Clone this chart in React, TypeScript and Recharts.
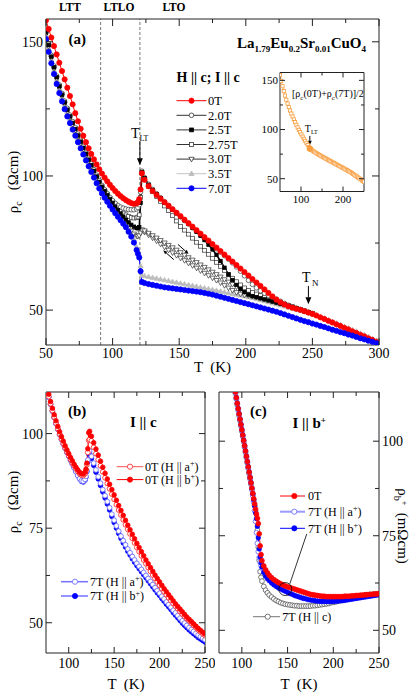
import React from 'react';
import { LineChart, Line, XAxis, YAxis, ReferenceLine, ReferenceDot } from 'recharts';

const FONT = 'Liberation Serif, Times New Roman, Times, serif';
const AXC = '#222';

// ---------------- Panel (a): rho_c vs T, H || c ----------------
const TA_LO = [50, 52, 54, 56, 58, 60, 62, 64, 66, 68, 70, 72, 74, 76, 78, 80, 82, 84, 86, 88, 90, 92, 94, 96, 98, 100, 102, 104, 106, 108, 110, 112, 114, 116, 118, 119, 120, 121];
const TA_HI = [122, 124, 127, 130, 133, 136, 139, 142, 145, 148, 151, 154, 157, 160, 163, 166, 169, 172, 175, 178, 181, 184, 187, 190, 193, 196, 199, 202, 205, 208, 211, 214, 217, 220, 223, 226, 229, 232, 235, 238, 241, 244, 247, 250, 253, 256, 259, 262, 265, 268, 271, 274, 277, 280, 283, 286, 289, 292, 295, 298, 300];
const TA_BACK = [208, 205, 202, 199, 196, 193, 190, 187, 184, 181, 178, 175, 172, 169, 166, 163, 160, 157, 154, 151, 148, 145, 142, 139, 136, 133, 130, 127, 124, 122];

const R0_LO = [158, 154.8, 151.6, 148.4, 145.3, 142.2, 139.1, 136, 132.9, 129.8, 126.7, 123.4, 120.4, 117.6, 115, 112.6, 110.3, 108.2, 106.2, 104.3, 102.5, 100.9, 99.4, 98, 96.7, 95.5, 94.4, 93.4, 92.5, 91.7, 91, 90.4, 89.9, 89.6, 89.8, 90.3, 91.4, 95];
const R0_HI = [101, 98.6, 96.2, 94.4, 92.9, 91.5, 90.2, 88.9, 87.6, 86.3, 85, 83.7, 82.4, 81.1, 79.8, 78.5, 77.2, 75.9, 74.6, 73.3, 72, 70.7, 69.4, 68.1, 66.8, 65.5, 64.2, 62.9, 61.6, 60.3, 59, 57.7, 56.4, 55.1, 53.9, 52.9, 52.1, 51.4, 50.9, 50.5, 50.1, 49.6, 49.1, 48.6, 48, 47.3, 46.7, 46, 45.4, 44.7, 44.1, 43.4, 42.8, 42.1, 41.5, 40.8, 40.2, 39.5, 38.9, 38.2, 37.8];

const R7_LO = [151, 146.3, 142, 138, 134.3, 130.9, 127.8, 124.9, 122.2, 119.7, 117.3, 115, 112.6, 110.3, 108, 105.8, 103.6, 101.5, 99.4, 97.3, 95.3, 93.5, 91.9, 90.4, 88.9, 87.5, 86.1, 84.8, 83.5, 82.2, 80.9, 79.2, 77.4, 75.2, 72.4, 71, 69.6, 64.5];
const R7_HI = [60.5, 60.1, 59.7, 59.4, 59.1, 58.8, 58.5, 58.3, 58.1, 57.9, 57.7, 57.5, 57.3, 57.1, 56.9, 56.7, 56.4, 56.1, 55.8, 55.4, 55, 54.6, 54.2, 53.8, 53.4, 53, 52.6, 52.2, 51.8, 51.4, 51, 50.6, 50.2, 49.8, 49.4, 48.9, 48.4, 47.9, 47.4, 46.9, 46.4, 45.9, 45.5, 45, 44.6, 44.1, 43.7, 43.2, 42.7, 42.3, 41.8, 41.4, 40.9, 40.5, 40, 39.5, 39.1, 38.6, 38.2, 37.7, 37.4];

const R20_LO = [154, 149.3, 145, 141, 137.3, 133.9, 130.8, 127.9, 125.2, 122.7, 120.3, 118, 115.6, 113.3, 111, 108.8, 106.6, 104.5, 102.4, 100.3, 98.3, 96.5, 94.9, 93.4, 92, 90.8, 89.8, 89, 88.4, 88, 87.7, 87.5, 87.4, 87.4, 87.7, 88.2, 89.3, 94];
const R20_HI = [101.8, 99.4, 96.9, 95, 93.4, 91.9, 90.4, 89, 87.6, 86.2, 84.8, 83.4, 82.1, 80.7, 79.4, 78.1, 76.8, 75.5, 74.2, 72.9, 71.6, 70.3, 69, 67.6, 66.1, 64.5, 62.8, 61.1, 59.6, 58.3, 57.2, 56.3, 55.5, 54.8, 54.1, 53.3, 52.5, 51.8, 51.2, 50.7, 50.2, 49.7, 49.2, 48.7];

const R25_LO = [153.5, 148.8, 144.5, 140.5, 136.8, 133.4, 130.3, 127.4, 124.7, 122.2, 119.8, 117.5, 115.1, 112.8, 110.5, 108.3, 106.1, 104, 101.9, 99.8, 97.8, 96, 94.4, 92.9, 91.4, 90, 88.6, 87.3, 86, 84.8, 83.7, 82.7, 81.8, 81.1, 80.6, 80.5, 80.9, 90];
const R25_HI = [101.5, 99.2, 96.7, 94.8, 93.2, 91.7, 90.2, 88.8, 87.4, 86.1, 84.8, 83.5, 82.2, 80.7, 79.2, 77.7, 76.1, 74.4, 72.6, 70.6, 68.3, 65.8, 63.3, 61.2, 59.4, 57.9, 56.7, 55.8, 55.2, 54.8, 54.4, 54, 53.6, 53.2, 52.8, 52.4, 52, 51.6, 51.2, 50.7, 50.2, 49.7, 49.2, 48.7];

const R275_LO = [153.7, 149, 144.7, 140.7, 137, 133.6, 130.5, 127.6, 124.9, 122.4, 120, 117.7, 115.3, 113, 110.7, 108.5, 106.3, 104.2, 102.1, 100, 98, 96.2, 94.6, 93.1, 91.6, 90.4, 89.2, 88.1, 87.1, 86.2, 85.5, 84.9, 84.5, 84.3, 84.4, 84.7, 85.5, 92];
const R275_HI = [101, 98.6, 96.1, 94.1, 92.3, 90.5, 88.8, 87.1, 85.2, 83.2, 81.2, 79.8, 78.3, 76.8, 75.3, 73.8, 72.3, 70.8, 69.3, 67.8, 66.3, 64.8, 63.3, 61.9, 60.6, 59.4, 58.3, 57.4, 56.6, 56, 55.4, 54.9, 54.4, 53.9, 53.4, 52.8, 52.2, 51.7, 51.2, 50.7, 50.2, 49.7, 49.2, 48.7];

const R30_LO = [153, 148.3, 144, 140, 136.3, 132.9, 129.8, 126.9, 124.2, 121.7, 119.3, 117, 114.6, 112.3, 110, 107.8, 105.6, 103.5, 101.4, 99.3, 97.3, 95.5, 93.9, 92.4, 90.9, 89.3, 87.7, 86.1, 84.6, 83.2, 81.9, 80.7, 79.5, 78.4, 77.7, 77.5, 77.8, 78.8];
const R30_UP = [80, 79.6, 78.7, 77.8, 76.9, 76, 75.1, 74.2, 73.3, 72.4, 71.5, 70.5, 69.6, 68.7, 67.8, 66.9, 66, 65.1, 64.2, 63.3, 62.4, 61.4, 60.5, 59.6, 58.7, 57.8, 56.9, 56.1, 55.5, 55, 54.6, 54.2, 53.8, 53.4, 53, 52.5, 52.1, 51.6, 51.1, 50.6, 50.1, 49.6, 49.1, 48.6];
const R30_DOWN = [55, 55.2, 55.4, 55.6, 56, 56.6, 57.4, 58.3, 59.2, 60.2, 61.1, 62, 62.9, 63.8, 64.7, 65.7, 66.6, 67.5, 68.5, 69.4, 70.4, 71.4, 72.4, 73.5, 74.6, 75.8, 76.9, 78, 79, 79.6];

const R35_LO = [152.5, 147.8, 143.5, 139.5, 135.8, 132.4, 129.3, 126.4, 123.7, 121.2, 118.8, 116.5, 114.1, 111.8, 109.5, 107.3, 105.1, 103, 100.9, 98.8, 96.8, 95, 93.4, 91.9, 90.4, 89, 87.6, 86.3, 85, 83.7, 82.4, 80.5, 78.7, 76.5, 73.6, 72.2, 70.8, 66.5];
const R35_HI = [63, 62.7, 62.4, 62.1, 61.8, 61.5, 61.2, 60.9, 60.6, 60.3, 60, 59.7, 59.4, 59.1, 58.8, 58.5, 58.2, 57.9, 57.6, 57.3, 57, 56.7, 56.4, 56.1, 55.8, 55.5, 55.2, 54.9, 54.6, 54.2, 53.8, 53.4, 53, 52.6, 52.2, 51.8, 51.4, 51, 50.6, 50.2, 49.8, 49.4, 49, 48.6, 48.1, 47.5, 46.9, 46.3, 45.7, 45.1, 44.5, 43.9, 43.3, 42.7, 42.1, 41.4, 40.8, 40.1, 39.4, 38.7, 38.3];

const XT_A = [50, 75, 100, 125, 150, 175, 200, 225, 250, 275, 300];
const XM_A = [50, 100, 150, 200, 250, 300];
const YT_A = [50, 75, 100, 125, 150];
const YM_A = [50, 100, 150];
const PHASE_T = [91, 120.5];
const T_LT = 120.5;
const T_N = 247;

// ---------------- Inset: [rho(0T)+rho(7T)]/2 ----------------
const TI = [50, 53, 56, 59, 62, 65, 68, 71, 74, 77, 80, 83, 86, 89, 92, 95, 98, 101, 104, 107, 110, 113, 116, 119, 122, 125, 128, 131, 134, 137, 140, 143, 146, 149, 152, 155, 158, 161, 164, 167, 170, 173, 176, 179, 182, 185, 188, 191, 194, 197, 200, 203, 206, 209, 212, 215, 218, 221, 224, 227, 230, 233, 236, 239, 242, 245, 248, 250];
const RI = [155.5, 149.5, 144, 139, 134.5, 130.3, 126.4, 122.8, 119.4, 116.2, 113.2, 110.3, 107.5, 104.8, 102.2, 99.7, 97.3, 95, 92.8, 90.6, 88.5, 86.4, 84.3, 82.2, 80.3, 79.3, 78.4, 77.5, 76.7, 75.9, 75.1, 74.3, 73.6, 72.8, 72.1, 71.4, 70.7, 70, 69.3, 68.6, 67.9, 67.2, 66.5, 65.8, 65.1, 64.4, 63.7, 63, 62.3, 61.6, 60.9, 60.2, 59.5, 58.8, 58.1, 57.4, 56.6, 55.7, 54.8, 53.9, 53, 52.1, 51.2, 50.3, 49.4, 48.5, 47.6, 47];
const INSET_TLT = { T: 121, v: 80.6 };

// ---------------- Panel (b): I || c, in-plane field ----------------
const TB = [76, 78, 80, 82, 84, 86, 88, 90, 92, 94, 96, 98, 100, 102, 104, 106, 108, 110, 112, 114, 116, 118, 119, 120, 121, 122, 123, 125, 127.5, 130, 132.5, 135, 137.5, 140, 142.5, 145, 147.5, 150, 152.5, 155, 157.5, 160, 162.5, 165, 167.5, 170, 172.5, 175, 177.5, 180, 182.5, 185, 187.5, 190, 192.5, 195, 197.5, 200, 202.5, 205, 207.5, 210, 212.5, 215, 217.5, 220, 222.5, 225, 227.5, 230, 232.5, 235, 237.5, 240, 242.5, 245, 247.5, 250];
const B_0T_A = [111.8, 109.8, 107.9, 106.1, 104.4, 102.8, 101.3, 99.9, 98.6, 97.4, 96.3, 95.2, 94.2, 93.2, 92.3, 91.5, 90.7, 90, 89.4, 89, 88.9, 89.4, 90.2, 91.8, 95, 98.2, 98.4, 98.1, 96.4, 94.7, 93.1, 91.5, 89.9, 88.3, 86.8, 85.4, 84, 82.6, 81.2, 79.8, 78.5, 77.2, 75.9, 74.7, 73.5, 72.3, 71.1, 69.9, 68.8, 67.7, 66.6, 65.6, 64.6, 63.6, 62.6, 61.7, 60.8, 59.9, 59, 58.2, 57.4, 56.6, 55.8, 55.1, 54.4, 53.7, 53, 52.3, 51.7, 51.1, 50.5, 49.9, 49.3, 48.7, 48.1, 47.6, 47.1, 46.6];
const B_0T_B = [112.5, 110.4, 108.5, 106.7, 105, 103.4, 101.9, 100.5, 99.2, 98, 96.8, 95.7, 94.7, 93.7, 92.8, 91.9, 91.1, 90.4, 89.8, 89.4, 89.3, 89.8, 90.6, 92.2, 96, 100.2, 100.6, 99.3, 97.6, 95.9, 94.3, 92.7, 91.1, 89.5, 88, 86.6, 85.2, 83.8, 82.4, 81, 79.7, 78.4, 77.1, 75.8, 74.6, 73.4, 72.2, 71, 69.9, 68.8, 67.7, 66.6, 65.6, 64.6, 63.6, 62.6, 61.7, 60.8, 59.9, 59, 58.2, 57.4, 56.6, 55.8, 55, 54.3, 53.6, 52.9, 52.2, 51.5, 50.9, 50.3, 49.7, 49.1, 48.5, 48, 47.5, 47];
const B_7T_A = [111.6, 109.6, 107.7, 105.9, 104.2, 102.6, 101.1, 99.7, 98.4, 97.2, 96.1, 95, 94, 92.9, 91.9, 90.9, 89.9, 88.9, 88.1, 87.5, 87.4, 87.9, 88.7, 90.2, 93, 95.3, 95.4, 94, 92.2, 90.4, 88.6, 86.9, 85.2, 83.6, 82, 80.4, 78.7, 77.1, 75.6, 74.2, 72.9, 71.7, 70.6, 69.5, 68.5, 67.5, 66.6, 65.7, 64.9, 64.1, 63.3, 62.5, 61.7, 60.9, 60.1, 59.3, 58.5, 57.8, 57, 56.3, 55.5, 54.8, 54.1, 53.3, 52.6, 51.9, 51.2, 50.5, 49.9, 49.3, 48.7, 48.2, 47.7, 47.2, 46.7, 46.3, 45.9, 45.5];
const B_7T_B = [111.7, 109.7, 107.8, 106, 104.3, 102.7, 101.2, 99.8, 98.5, 97.3, 96.2, 95.1, 94.1, 93, 92, 91, 90, 89, 88.1, 87.4, 87.2, 87.7, 88.5, 90, 92.5, 94.6, 94.8, 93.4, 91.6, 89.8, 88, 86.3, 84.6, 83, 81.4, 79.8, 78.1, 76.5, 75, 73.6, 72.3, 71.1, 70, 68.9, 67.9, 66.9, 66, 65.1, 64.3, 63.5, 62.7, 61.9, 61.1, 60.3, 59.5, 58.7, 57.9, 57.2, 56.4, 55.7, 54.9, 54.2, 53.5, 52.7, 52, 51.3, 50.6, 49.9, 49.3, 48.7, 48.1, 47.6, 47.1, 46.6, 46.1, 45.7, 45.3, 44.9];

// ---------------- Panel (c): I || b+ ----------------
const TC = [92, 93, 94, 95, 96, 97, 98, 99, 100, 101, 102, 103, 104, 105, 106, 107, 108, 109, 110, 111, 112, 113, 114, 115, 116, 117, 118, 119, 120, 121, 122, 124, 126, 128, 130, 132.5, 135, 137.5, 140, 142.5, 145, 147.5, 150, 152.5, 155, 157.5, 160, 162.5, 165, 167.5, 170, 172.5, 175, 177.5, 180, 182.5, 185, 187.5, 190, 192.5, 195, 197.5, 200, 202.5, 205, 207.5, 210, 212.5, 215, 217.5, 220, 222.5, 225, 227.5, 230, 232.5, 235, 237.5, 240, 242.5, 245, 247.5, 250];
const C_0T = [114.5, 113, 111.5, 110, 108.6, 107.2, 105.8, 104.4, 103, 101.6, 100.2, 98.8, 97.4, 96, 94.6, 93.2, 91.8, 90.4, 89, 87.6, 86.2, 84.8, 83.4, 82, 80.7, 79.6, 78.2, 75.5, 72.3, 70, 68.4, 67, 66, 65.2, 64.5, 63.9, 63.4, 63, 62.6, 62.3, 62, 61.7, 61.5, 61.3, 61.1, 60.9, 60.7, 60.5, 60.3, 60.1, 59.9, 59.7, 59.5, 59.4, 59.3, 59.2, 59.1, 59, 59, 58.9, 58.9, 58.9, 58.9, 58.9, 58.9, 58.9, 58.9, 59, 59, 59, 59.1, 59.1, 59.2, 59.2, 59.3, 59.3, 59.4, 59.4, 59.5, 59.5, 59.6, 59.6, 59.7];
const C_7T_A = [114.3, 112.8, 111.3, 109.8, 108.4, 107, 105.6, 104.2, 102.8, 101.4, 100, 98.6, 97.2, 95.8, 94.4, 93, 91.6, 90.2, 88.8, 87.2, 85.6, 83.8, 81.6, 78.8, 75.8, 73, 70.8, 69.2, 68, 67.1, 66.4, 65.4, 64.7, 64.1, 63.6, 63.1, 62.7, 62.3, 62, 61.7, 61.4, 61.1, 60.9, 60.6, 60.4, 60.2, 60, 59.8, 59.6, 59.4, 59.3, 59.1, 59, 58.9, 58.8, 58.7, 58.6, 58.5, 58.5, 58.4, 58.4, 58.4, 58.4, 58.4, 58.4, 58.4, 58.4, 58.5, 58.5, 58.6, 58.6, 58.7, 58.8, 58.8, 58.9, 59, 59, 59.1, 59.2, 59.2, 59.3, 59.4, 59.5];
const C_7T_B = [114.6, 113.1, 111.6, 110.1, 108.7, 107.3, 105.9, 104.5, 103.1, 101.7, 100.3, 98.9, 97.5, 96.1, 94.7, 93.3, 91.9, 90.5, 89.1, 87.6, 86.1, 84.5, 82.8, 81, 79.5, 77.5, 74.5, 71.5, 69.3, 67.8, 66.7, 65.3, 64.3, 63.6, 63.1, 62.5, 62, 61.6, 61.2, 60.9, 60.6, 60.3, 60, 59.7, 59.5, 59.2, 59, 58.8, 58.6, 58.4, 58.3, 58.1, 58, 57.9, 57.8, 57.7, 57.7, 57.6, 57.6, 57.6, 57.6, 57.6, 57.6, 57.7, 57.7, 57.8, 57.8, 57.9, 58, 58.1, 58.2, 58.3, 58.4, 58.5, 58.6, 58.7, 58.8, 58.9, 59, 59.1, 59.2, 59.3, 59.4];
const C_7T_C = [114.1, 112.6, 111.1, 109.6, 108.2, 106.8, 105.4, 104, 102.6, 101.2, 99.8, 98.4, 97, 95.6, 94.2, 92.8, 91.4, 90, 88.6, 87.2, 85.8, 84.4, 83, 81.4, 79, 76.5, 72, 68.5, 65.5, 64, 63, 61.6, 60.6, 59.9, 59.3, 58.8, 58.3, 57.9, 57.6, 57.3, 57.1, 56.9, 56.8, 56.7, 56.6, 56.5, 56.5, 56.4, 56.4, 56.4, 56.4, 56.4, 56.4, 56.5, 56.5, 56.6, 56.7, 56.8, 56.9, 57, 57.1, 57.3, 57.4, 57.5, 57.7, 57.8, 58, 58.1, 58.3, 58.4, 58.6, 58.7, 58.9, 59, 59.1, 59.2, 59.3, 59.4, 59.5, 59.5, 59.6, 59.6, 59.7];

const XT_BC = [100, 125, 150, 175, 200, 225, 250];
const XM_BC = [100, 150, 200, 250];
const YT_BC = [50, 62.5, 75, 87.5, 100];
const YM_BC = [50, 75, 100];

// ---------------- helpers ----------------
type Pt = { T: number; v: number };
const zip = (ts: number[], vs: number[]): Pt[] => vs.map((v, i) => ({ T: ts[i], v }));

type Kind = 'c' | 's' | 'td' | 'tu';
function Mk({ cx, cy, k, r, s, f, w = 0.8 }: { cx: number; cy: number; k: Kind; r: number; s: string; f: string; w?: number }) {
  if (k === 'c') return <circle cx={cx} cy={cy} r={r} fill={f} stroke={s} strokeWidth={w} />;
  if (k === 's') return <rect x={cx - r} y={cy - r} width={2 * r} height={2 * r} fill={f} stroke={s} strokeWidth={w} />;
  if (k === 'td')
    return <polygon points={`${cx - r * 1.1},${cy - r * 0.75} ${cx + r * 1.1},${cy - r * 0.75} ${cx},${cy + r * 1.15}`} fill={f} stroke={s} strokeWidth={w} />;
  return <polygon points={`${cx - r * 1.1},${cy + r * 0.75} ${cx + r * 1.1},${cy + r * 0.75} ${cx},${cy - r * 1.15}`} fill={f} stroke={s} strokeWidth={w} />;
}
const dotOf = (k: Kind, r: number, s: string, f: string, w = 0.8) => (p: any) => {
  const ok = typeof p.cx === 'number' && typeof p.cy === 'number' && !isNaN(p.cx) && !isNaN(p.cy);
  return ok ? <Mk key={`d${p.index}`} cx={p.cx} cy={p.cy} k={k} r={r} s={s} f={f} w={w} /> : <g key={`d${p.index}`} />;
};

const makeTick = (side: string, majors: number[], maj: number, min: number, label: boolean, fs = 14, off = 0) => (p: any) => {
  const x = Number(p.x);
  const y = Number(p.y);
  const v = p.payload ? p.payload.value : 0;
  const big = majors.indexOf(v) >= 0;
  const L = big ? maj : min;
  const x2 = side === 'l' ? x + L : side === 'r' ? x - L : x;
  const y2 = side === 'b' ? y - L : side === 't' ? y + L : y;
  let t = null;
  if (label && big) {
    if (side === 'b')
      t = <text x={x} y={y + off} textAnchor="middle" fontSize={fs} fontFamily={FONT} fill="#000">{v}</text>;
    else if (side === 'l')
      t = <text x={x - off} y={y + fs * 0.35} textAnchor="end" fontSize={fs} fontFamily={FONT} fill="#000">{v}</text>;
    else if (side === 'r')
      t = <text x={x + off} y={y + fs * 0.35} textAnchor="start" fontSize={fs} fontFamily={FONT} fill="#000">{v}</text>;
  }
  return (
    <g>
      <line x1={x} y1={y} x2={x2} y2={y2} stroke={AXC} strokeWidth={1} />
      {t}
    </g>
  );
};

const arrowShape = (head: number, label?: (x: number, y: number) => React.ReactNode) => (p: any) => {
  const { x1, y1, x2, y2 } = p;
  if ([x1, y1, x2, y2].some((n) => typeof n !== 'number' || isNaN(n))) return <g />;
  const a = Math.atan2(y2 - y1, x2 - x1);
  const bx = x2 - head * Math.cos(a);
  const by = y2 - head * Math.sin(a);
  const w = head * 0.42;
  const px = -Math.sin(a) * w;
  const py = Math.cos(a) * w;
  return (
    <g>
      <line x1={x1} y1={y1} x2={bx} y2={by} stroke="#000" strokeWidth={1} />
      <polygon points={`${x2},${y2} ${bx + px},${by + py} ${bx - px},${by - py}`} fill="#000" />
      {label ? label(x1, y1) : null}
    </g>
  );
};

const axBase = {
  type: 'number' as const,
  allowDataOverflow: true,
  interval: 0 as const,
  tickSize: 0,
  tickMargin: 0,
  tickLine: false,
  axisLine: { stroke: AXC, strokeWidth: 1 },
};

type Ser = { id: string; data: Pt[]; line: string; lw: number; k: Kind; r: number; s: string; f: string; w?: number };

const SER_A: Ser[] = [
  { id: 'f35', data: zip([...TA_LO, ...TA_HI], [...R35_LO, ...R35_HI]), line: '#c4c4c4', lw: 1, k: 'tu', r: 2.3, s: '#bdbdbd', f: '#bdbdbd' },
  { id: 'f30b', data: zip(TA_BACK, R30_DOWN), line: '#555', lw: 0.8, k: 'td', r: 2.4, s: '#333', f: '#fff', w: 0.7 },
  { id: 'f30', data: zip([...TA_LO, ...TA_HI], [...R30_LO, ...R30_UP]), line: '#555', lw: 1, k: 'td', r: 2.4, s: '#333', f: '#fff', w: 0.7 },
  { id: 'f275', data: zip([...TA_LO, ...TA_HI], [...R275_LO, ...R275_HI]), line: '#444', lw: 0.8, k: 's', r: 1.9, s: '#333', f: '#fff', w: 0.7 },
  { id: 'f20', data: zip([...TA_LO, ...TA_HI], [...R20_LO, ...R20_HI]), line: '#444', lw: 0.8, k: 'c', r: 2.3, s: '#333', f: '#fff', w: 0.7 },
  { id: 'f25', data: zip([...TA_LO, ...TA_HI], [...R25_LO, ...R25_HI]), line: '#000', lw: 1.6, k: 's', r: 1.7, s: '#000', f: '#000' },
  { id: 'f0', data: zip([...TA_LO, ...TA_HI], [...R0_LO, ...R0_HI]), line: '#ff0000', lw: 1, k: 'c', r: 2.6, s: '#ff0000', f: '#ff0000' },
  { id: 'f7', data: zip([...TA_LO, ...TA_HI], [...R7_LO, ...R7_HI]), line: '#0000ff', lw: 1, k: 'c', r: 2.6, s: '#0000ff', f: '#0000ff' },
];

const LBLUE = '#7272ff';
const SER_B: Ser[] = [
  { id: 'b7b', data: zip(TB, B_7T_B), line: LBLUE, lw: 1, k: 'c', r: 2.3, s: '#0000ff', f: '#0000ff' },
  { id: 'b7a', data: zip(TB, B_7T_A), line: LBLUE, lw: 1, k: 'c', r: 2.4, s: LBLUE, f: '#fff', w: 0.9 },
  { id: 'b0a', data: zip(TB, B_0T_A), line: '#ff5050', lw: 0.8, k: 'c', r: 2.4, s: '#ff3030', f: '#fff', w: 0.9 },
  { id: 'b0b', data: zip(TB, B_0T_B), line: '#ff0000', lw: 1, k: 'c', r: 2.3, s: '#ff0000', f: '#ff0000' },
];

const SER_C: Ser[] = [
  { id: 'c7c', data: zip(TC, C_7T_C), line: '#777', lw: 0.8, k: 'c', r: 2.4, s: '#555', f: '#fff', w: 0.8 },
  { id: 'c7a', data: zip(TC, C_7T_A), line: '#9a9aff', lw: 2, k: 'c', r: 2.4, s: LBLUE, f: '#fff', w: 0.9 },
  { id: 'c7b', data: zip(TC, C_7T_B), line: '#0000ff', lw: 1, k: 'c', r: 2.2, s: '#0000ff', f: '#0000ff' },
  { id: 'c0', data: zip(TC, C_0T), line: '#ff0000', lw: 1, k: 'c', r: 2.4, s: '#ff0000', f: '#ff0000' },
];

const renderSeries = (list: Ser[]) =>
  list.map((s) => (
    <Line
      key={s.id}
      data={s.data}
      dataKey="v"
      type="linear"
      stroke={s.line}
      strokeWidth={s.lw}
      dot={dotOf(s.k, s.r, s.s, s.f, s.w)}
      activeDot={false}
      isAnimationActive={false}
    />
  ));

const LegendRow = ({ y, x1, x2, mx, tx, line, lw = 1, k, r, s, f, w = 0.8, fs = 12.5, children }: any) => (
  <g>
    <line x1={x1} y1={y} x2={x2} y2={y} stroke={line} strokeWidth={lw} />
    <Mk cx={mx} cy={y} k={k} r={r} s={s} f={f} w={w} />
    <text x={tx} y={y + fs * 0.35} fontSize={fs} fontFamily={FONT} fill="#000">{children}</text>
  </g>
);

const HLabel = ({ pre, ax }: { pre: string; ax: string }) => (
  <>
    {`${pre} (H || ${ax}`}
    <tspan dy={-4.5} fontSize={8}>+</tspan>
    <tspan dy={4.5}>)</tspan>
  </>
);

export default function App() {
  return (
    <div style={{ position: 'absolute', left: 0, top: 0, width: 415, height: 692, background: '#fff', overflow: 'hidden', fontFamily: FONT }}>
      {/* Panel (a) */}
      <div style={{ position: 'absolute', left: 0, top: 0, zIndex: 1 }}>
        <LineChart width={415} height={380} margin={{ top: 18, right: 35, bottom: 34, left: 45 }}>
          <XAxis {...axBase} dataKey="T" domain={[50, 300]} ticks={XT_A} height={1} tick={makeTick('b', XM_A, 7, 4, true, 14, 13)} />
          <XAxis {...axBase} xAxisId="t" orientation="top" dataKey="T" domain={[50, 300]} ticks={XT_A} height={1} tick={makeTick('t', XM_A, 7, 4, false)} />
          <YAxis {...axBase} domain={[37, 158.5]} ticks={YT_A} width={1} tick={makeTick('l', YM_A, 7, 4, true, 14, 3)} />
          <YAxis {...axBase} yAxisId="r" orientation="right" domain={[37, 158.5]} ticks={YT_A} width={1} tick={makeTick('r', YM_A, 7, 4, false)} />
          {PHASE_T.map((t) => (
            <ReferenceLine key={`ph${t}`} x={t} stroke="#555" strokeWidth={0.8} strokeDasharray="3 2" />
          ))}
          {renderSeries(SER_A)}
          <ReferenceLine
            segment={[{ x: T_LT, y: 113 }, { x: T_LT, y: 104 }]}
            ifOverflow="visible"
            shape={arrowShape(7, (x, y) => (
              <text x={x - 9} y={y - 3} fontSize={14} fontFamily={FONT} fill="#000">
                T<tspan dy={3} fontSize={8}>LT</tspan>
              </text>
            ))}
          />
          <ReferenceLine
            segment={[{ x: T_N, y: 59 }, { x: T_N, y: 52.2 }]}
            ifOverflow="visible"
            shape={arrowShape(7, (x, y) => (
              <text x={x - 6.5} y={y - 4} fontSize={14} fontFamily={FONT} fill="#000">
                T<tspan dx={1.5} dy={4} fontSize={9}>N</tspan>
              </text>
            ))}
          />
          <ReferenceLine segment={[{ x: 149, y: 74.5 }, { x: 157, y: 71 }]} ifOverflow="visible" shape={arrowShape(4)} />
          <ReferenceLine segment={[{ x: 146, y: 68.8 }, { x: 138, y: 72.3 }]} ifOverflow="visible" shape={arrowShape(4)} />
        </LineChart>
      </div>

      {/* Inset */}
      <div style={{ position: 'absolute', left: 250, top: 60, zIndex: 2 }}>
        <LineChart width={125} height={150} margin={{ top: 11.5, right: 10, bottom: 17.5, left: 29 }}>
          <XAxis {...axBase} dataKey="T" domain={[50, 250]} ticks={[100, 150, 200]} height={1} tick={makeTick('b', [100, 200], 5, 3, true, 11, 11.5)} />
          <XAxis {...axBase} xAxisId="t" orientation="top" dataKey="T" domain={[50, 250]} ticks={[100, 150, 200]} height={1} tick={makeTick('t', [100, 200], 5, 3, false)} />
          <YAxis {...axBase} domain={[37, 158]} ticks={YT_A} width={1} tick={makeTick('l', YM_A, 5, 3, true, 11, 2)} />
          <YAxis {...axBase} yAxisId="r" orientation="right" domain={[37, 158]} ticks={YT_A} width={1} tick={makeTick('r', YM_A, 5, 3, false)} />
          <Line data={zip(TI, RI)} dataKey="v" stroke="#f99d3e" strokeWidth={0.8} dot={dotOf('s', 1.6, '#f99d3e', '#fff', 0.8)} activeDot={false} isAnimationActive={false} />
          <ReferenceDot x={INSET_TLT.T} y={INSET_TLT.v} r={2.8} fill="#f99d3e" stroke="#f99d3e" />
          <ReferenceLine
            segment={[{ x: 121, y: 93.5 }, { x: 121, y: 84 }]}
            ifOverflow="visible"
            shape={arrowShape(4.5, (x, y) => (
              <text x={x - 5} y={y - 4} fontSize={10} fontFamily={FONT} fill="#000">
                T<tspan dy={2.5} fontSize={6}>LT</tspan>
              </text>
            ))}
          />
        </LineChart>
      </div>

      {/* Panel (b) */}
      <div style={{ position: 'absolute', left: 0, top: 380, zIndex: 1 }}>
        <LineChart width={215} height={312} margin={{ top: 11, right: 9, bottom: 38, left: 45 }}>
          <XAxis {...axBase} dataKey="T" domain={[75, 250]} ticks={XT_BC} height={1} tick={makeTick('b', XM_BC, 6, 4, true, 14, 14.5)} />
          <XAxis {...axBase} xAxisId="t" orientation="top" dataKey="T" domain={[75, 250]} ticks={XT_BC} height={1} tick={makeTick('t', XM_BC, 6, 4, false)} />
          <YAxis {...axBase} domain={[42, 111]} ticks={YT_BC} width={1} tick={makeTick('l', YM_BC, 6, 4, true, 14, 3)} />
          <YAxis {...axBase} yAxisId="r" orientation="right" domain={[42, 111]} ticks={YT_BC} width={1} tick={makeTick('r', YM_BC, 6, 4, false)} />
          {renderSeries(SER_B)}
        </LineChart>
      </div>

      {/* Panel (c) */}
      <div style={{ position: 'absolute', left: 205, top: 380, zIndex: 1 }}>
        <LineChart width={210} height={312} margin={{ top: 11, right: 35, bottom: 38, left: 13 }}>
          <XAxis {...axBase} dataKey="T" domain={[75, 250]} ticks={XT_BC} height={1} tick={makeTick('b', XM_BC, 6, 4, true, 14, 14.5)} />
          <XAxis {...axBase} xAxisId="t" orientation="top" dataKey="T" domain={[75, 250]} ticks={XT_BC} height={1} tick={makeTick('t', XM_BC, 6, 4, false)} />
          <YAxis {...axBase} domain={[44, 113]} ticks={YT_BC} width={1} tick={makeTick('l', YM_BC, 6, 4, false)} />
          <YAxis {...axBase} yAxisId="r" orientation="right" domain={[44, 113]} ticks={YT_BC} width={1} tick={makeTick('r', YM_BC, 6, 4, true, 14, 3)} />
          {renderSeries(SER_C)}
          <ReferenceDot x={147.5} y={60.9} r={6.5} fill="none" stroke="#000" strokeWidth={0.8} />
          <ReferenceLine segment={[{ x: 152.5, y: 62.3 }, { x: 171, y: 75.5 }]} ifOverflow="visible" stroke="#000" strokeWidth={0.8} />
        </LineChart>
      </div>

      {/* Text overlay */}
      <svg width={415} height={692} style={{ position: 'absolute', left: 0, top: 0, pointerEvents: 'none', zIndex: 10 }} fontFamily={FONT}>
        <g fontWeight="bold" fontSize={11.5} textAnchor="middle">
          <text x={70} y={10.5}>LTT</text>
          <text x={119} y={10.5}>LTLO</text>
          <text x={174} y={10.5}>LTO</text>
        </g>
        <text x={68.5} y={44} fontSize={15} fontWeight="bold">(a)</text>
        <text x={237} y={48} fontSize={15} fontWeight="bold">
          La<tspan dy={4} fontSize={9}>1.79</tspan>
          <tspan dy={-4}>Eu</tspan>
          <tspan dy={4} fontSize={9}>0.2</tspan>
          <tspan dy={-4}>Sr</tspan>
          <tspan dy={4} fontSize={9}>0.01</tspan>
          <tspan dy={-4}>CuO</tspan>
          <tspan dy={4} fontSize={9}>4</tspan>
        </text>
        <text x={176.5} y={82} fontSize={14} fontWeight="bold">H || c; I || c</text>
        <LegendRow y={100.7} x1={176.5} x2={206.5} mx={191.5} tx={208} line="#ff0000" k="c" r={2.6} s="#ff0000" f="#ff0000">0T</LegendRow>
        <LegendRow y={115.3} x1={176.5} x2={206.5} mx={191.5} tx={208} line="#333" k="c" r={2.3} s="#333" f="#fff">2.0T</LegendRow>
        <LegendRow y={129.9} x1={176.5} x2={206.5} mx={191.5} tx={208} line="#333" k="s" r={1.9} s="#000" f="#000">2.5T</LegendRow>
        <LegendRow y={144.5} x1={176.5} x2={206.5} mx={191.5} tx={208} line="#333" k="s" r={2} s="#333" f="#fff">2.75T</LegendRow>
        <LegendRow y={159.1} x1={176.5} x2={206.5} mx={191.5} tx={208} line="#333" k="td" r={2.4} s="#333" f="#fff">3.0T</LegendRow>
        <LegendRow y={173.7} x1={176.5} x2={206.5} mx={191.5} tx={208} line="#c4c4c4" k="tu" r={2.4} s="#bdbdbd" f="#bdbdbd">3.5T</LegendRow>
        <LegendRow y={188.3} x1={176.5} x2={206.5} mx={191.5} tx={208} line="#0000ff" k="c" r={2.6} s="#0000ff" f="#0000ff">7.0T</LegendRow>
        <text x={212.5} y={372} fontSize={15} textAnchor="middle" style={{ whiteSpace: 'pre' }}>T  (K)</text>
        <text transform="translate(18,182) rotate(-90)" fontSize={15} textAnchor="middle" style={{ whiteSpace: 'pre' }}>
          ρ<tspan dy={4} fontSize={10}>c</tspan>
          <tspan dy={-4}>   (Ωcm)</tspan>
        </text>
        <text x={292} y={97} fontSize={10}>
          [ρ<tspan dy={2.5} fontSize={7}>c</tspan>
          <tspan dy={-2.5}>(0T)+ρ</tspan>
          <tspan dy={2.5} fontSize={7}>c</tspan>
          <tspan dy={-2.5}>(7T)]/2</tspan>
        </text>

        <text x={68} y={415.5} fontSize={15} fontWeight="bold">(b)</text>
        <text x={130} y={426.5} fontSize={15} fontWeight="bold">I || c</text>
        <LegendRow y={466.7} x1={116.7} x2={143.3} mx={130} tx={145} line="#ff5050" k="c" r={2.6} s="#ff3030" f="#fff" w={0.9} fs={12}>
          <HLabel pre="0T" ax="a" />
        </LegendRow>
        <LegendRow y={479.6} x1={116.7} x2={143.3} mx={130} tx={145} line="#ff0000" k="c" r={2.6} s="#ff0000" f="#ff0000" fs={12}>
          <HLabel pre="0T" ax="b" />
        </LegendRow>
        <LegendRow y={581.7} x1={61} x2={88} mx={75} tx={90} line={LBLUE} lw={1.5} k="c" r={2.6} s={LBLUE} f="#fff" w={0.9} fs={12}>
          <HLabel pre="7T" ax="a" />
        </LegendRow>
        <LegendRow y={596} x1={61} x2={88} mx={75} tx={90} line={LBLUE} lw={1.5} k="c" r={2.6} s="#0000ff" f="#0000ff" fs={12}>
          <HLabel pre="7T" ax="b" />
        </LegendRow>
        <text transform="translate(18,502) rotate(-90)" fontSize={15} textAnchor="middle" style={{ whiteSpace: 'pre' }}>
          ρ<tspan dy={4} fontSize={10}>c</tspan>
          <tspan dy={-4}>   (Ωcm)</tspan>
        </text>
        <text x={126} y={689} fontSize={15} textAnchor="middle" style={{ whiteSpace: 'pre' }}>T  (K)</text>

        <text x={250} y={415.5} fontSize={15} fontWeight="bold">(c)</text>
        <text x={292.5} y={428} fontSize={15} fontWeight="bold">
          I || b<tspan dy={-5} fontSize={9}>+</tspan>
        </text>
        <LegendRow y={496} x1={280} x2={305} mx={294.3} tx={308} line="#ff0000" k="c" r={2.6} s="#ff0000" f="#ff0000" fs={12}>0T</LegendRow>
        <LegendRow y={511.7} x1={280} x2={305} mx={294.3} tx={308} line="#9a9aff" lw={2} k="c" r={2.6} s={LBLUE} f="#fff" w={0.9} fs={12}>
          <HLabel pre="7T" ax="a" />
        </LegendRow>
        <LegendRow y={528.3} x1={280} x2={305} mx={294.3} tx={308} line="#0000ff" k="c" r={2.6} s="#0000ff" f="#0000ff" fs={12}>
          <HLabel pre="7T" ax="b" />
        </LegendRow>
        <LegendRow y={616.7} x1={253} x2={280} mx={267.7} tx={282.3} line="#777" k="c" r={2.6} s="#555" f="#fff" fs={12}>
          7T (H || c)
        </LegendRow>
        <text transform="translate(398,526) rotate(90)" fontSize={15} textAnchor="middle" style={{ whiteSpace: 'pre' }}>
          ρ<tspan dy={4} fontSize={10}>b</tspan>
          <tspan dy={-8} fontSize={8}>+</tspan>
          <tspan dy={4}>  (mΩcm)</tspan>
        </text>
        <text x={299} y={689} fontSize={15} textAnchor="middle" style={{ whiteSpace: 'pre' }}>T  (K)</text>
      </svg>
    </div>
  );
}
